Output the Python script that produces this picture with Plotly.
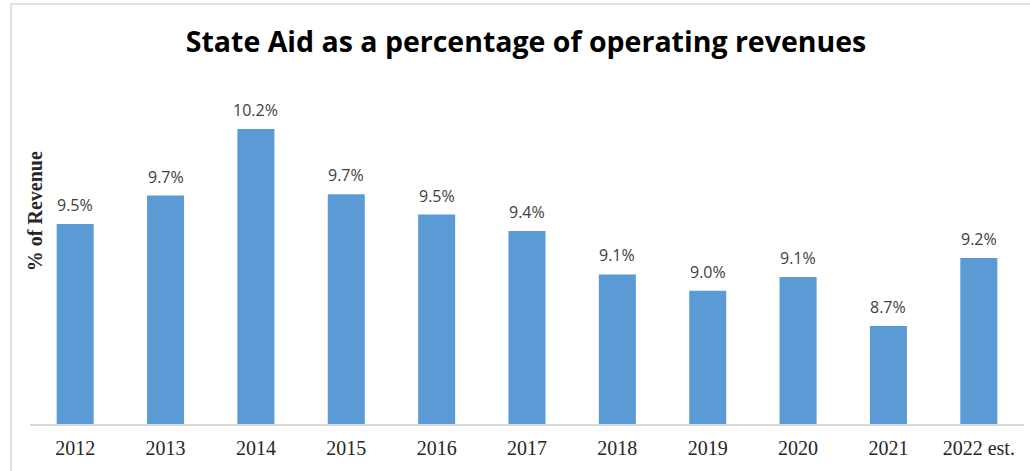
import plotly.graph_objects as go

# State Aid share of operating revenues, by fiscal year
years = ["2012", "2013", "2014", "2015", "2016", "2017",
         "2018", "2019", "2020", "2021", "2022 est."]
pct = [9.47, 9.68, 10.17, 9.69, 9.54, 9.42, 9.10, 8.98, 9.08, 8.72, 9.22]

title_text = "State Aid as a percentage of operating revenues"
y_title = "% of Revenue"
y_floor, y_ceil = 8.0, 10.5

W, H = 1030, 471
M_L, M_R, M_T, M_B = 30, 6, 84, 47
plot_w = W - M_L - M_R
plot_h = H - M_T - M_B

BAR_BLUE = "#5B9BD5"
TEXT_DARK = "#262626"
FRAME_GREY = "#D9D9D9"

fig = go.Figure(
    go.Bar(
        x=years,
        y=pct,
        width=0.41,
        marker=dict(color=BAR_BLUE, line=dict(width=0)),
        hoverinfo="skip",
    )
)

# value labels above each bar (category positions given by index,
# since year strings would otherwise be read as numeric positions)
for i, v in enumerate(pct):
    fig.add_annotation(
        x=i, y=v, xref="x", yref="y",
        text=f"{v:.1f}%",
        showarrow=False,
        yanchor="bottom",
        yshift=6,
        font=dict(family="Open Sans", size=16, color="#404040"),
    )

# vertical axis caption
fig.add_annotation(
    xref="paper", yref="paper",
    x=(35 - M_L) / plot_w, y=0.626,
    text=y_title,
    textangle=-90,
    showarrow=False,
    xanchor="center", yanchor="middle",
    font=dict(family="Liberation Serif", size=20, color=TEXT_DARK, weight="bold"),
)

# chart frame
fig.add_shape(
    type="rect", xref="paper", yref="paper",
    x0=(11 - M_L) / plot_w, x1=1.05,
    y0=-0.3, y1=(plot_h + M_T - 4) / plot_h,
    line=dict(color=FRAME_GREY, width=1.5),
    fillcolor="rgba(0,0,0,0)",
    layer="below",
)

fig.update_layout(
    width=W, height=H,
    margin=dict(l=M_L, r=M_R, t=M_T, b=M_B),
    paper_bgcolor="white",
    plot_bgcolor="white",
    showlegend=False,
    title=dict(
        text=title_text,
        x=526 / W, xanchor="center",
        y=1 - 42 / H, yanchor="middle",
        font=dict(family="Open Sans", size=28.5, color="#000000", weight="bold"),
    ),
    xaxis=dict(
        type="category",
        range=[-0.5, len(years) - 0.5],
        showline=True, linecolor=FRAME_GREY, linewidth=1.5,
        ticks="", showgrid=False, zeroline=False,
        tickfont=dict(family="Liberation Serif", size=20, color=TEXT_DARK),
        ticklabelstandoff=5,
        fixedrange=True,
    ),
    yaxis=dict(
        range=[y_floor, y_ceil],
        showticklabels=False, showgrid=False, zeroline=False, showline=False,
        ticks="",
        fixedrange=True,
    ),
)

fig.write_html("out.html")
